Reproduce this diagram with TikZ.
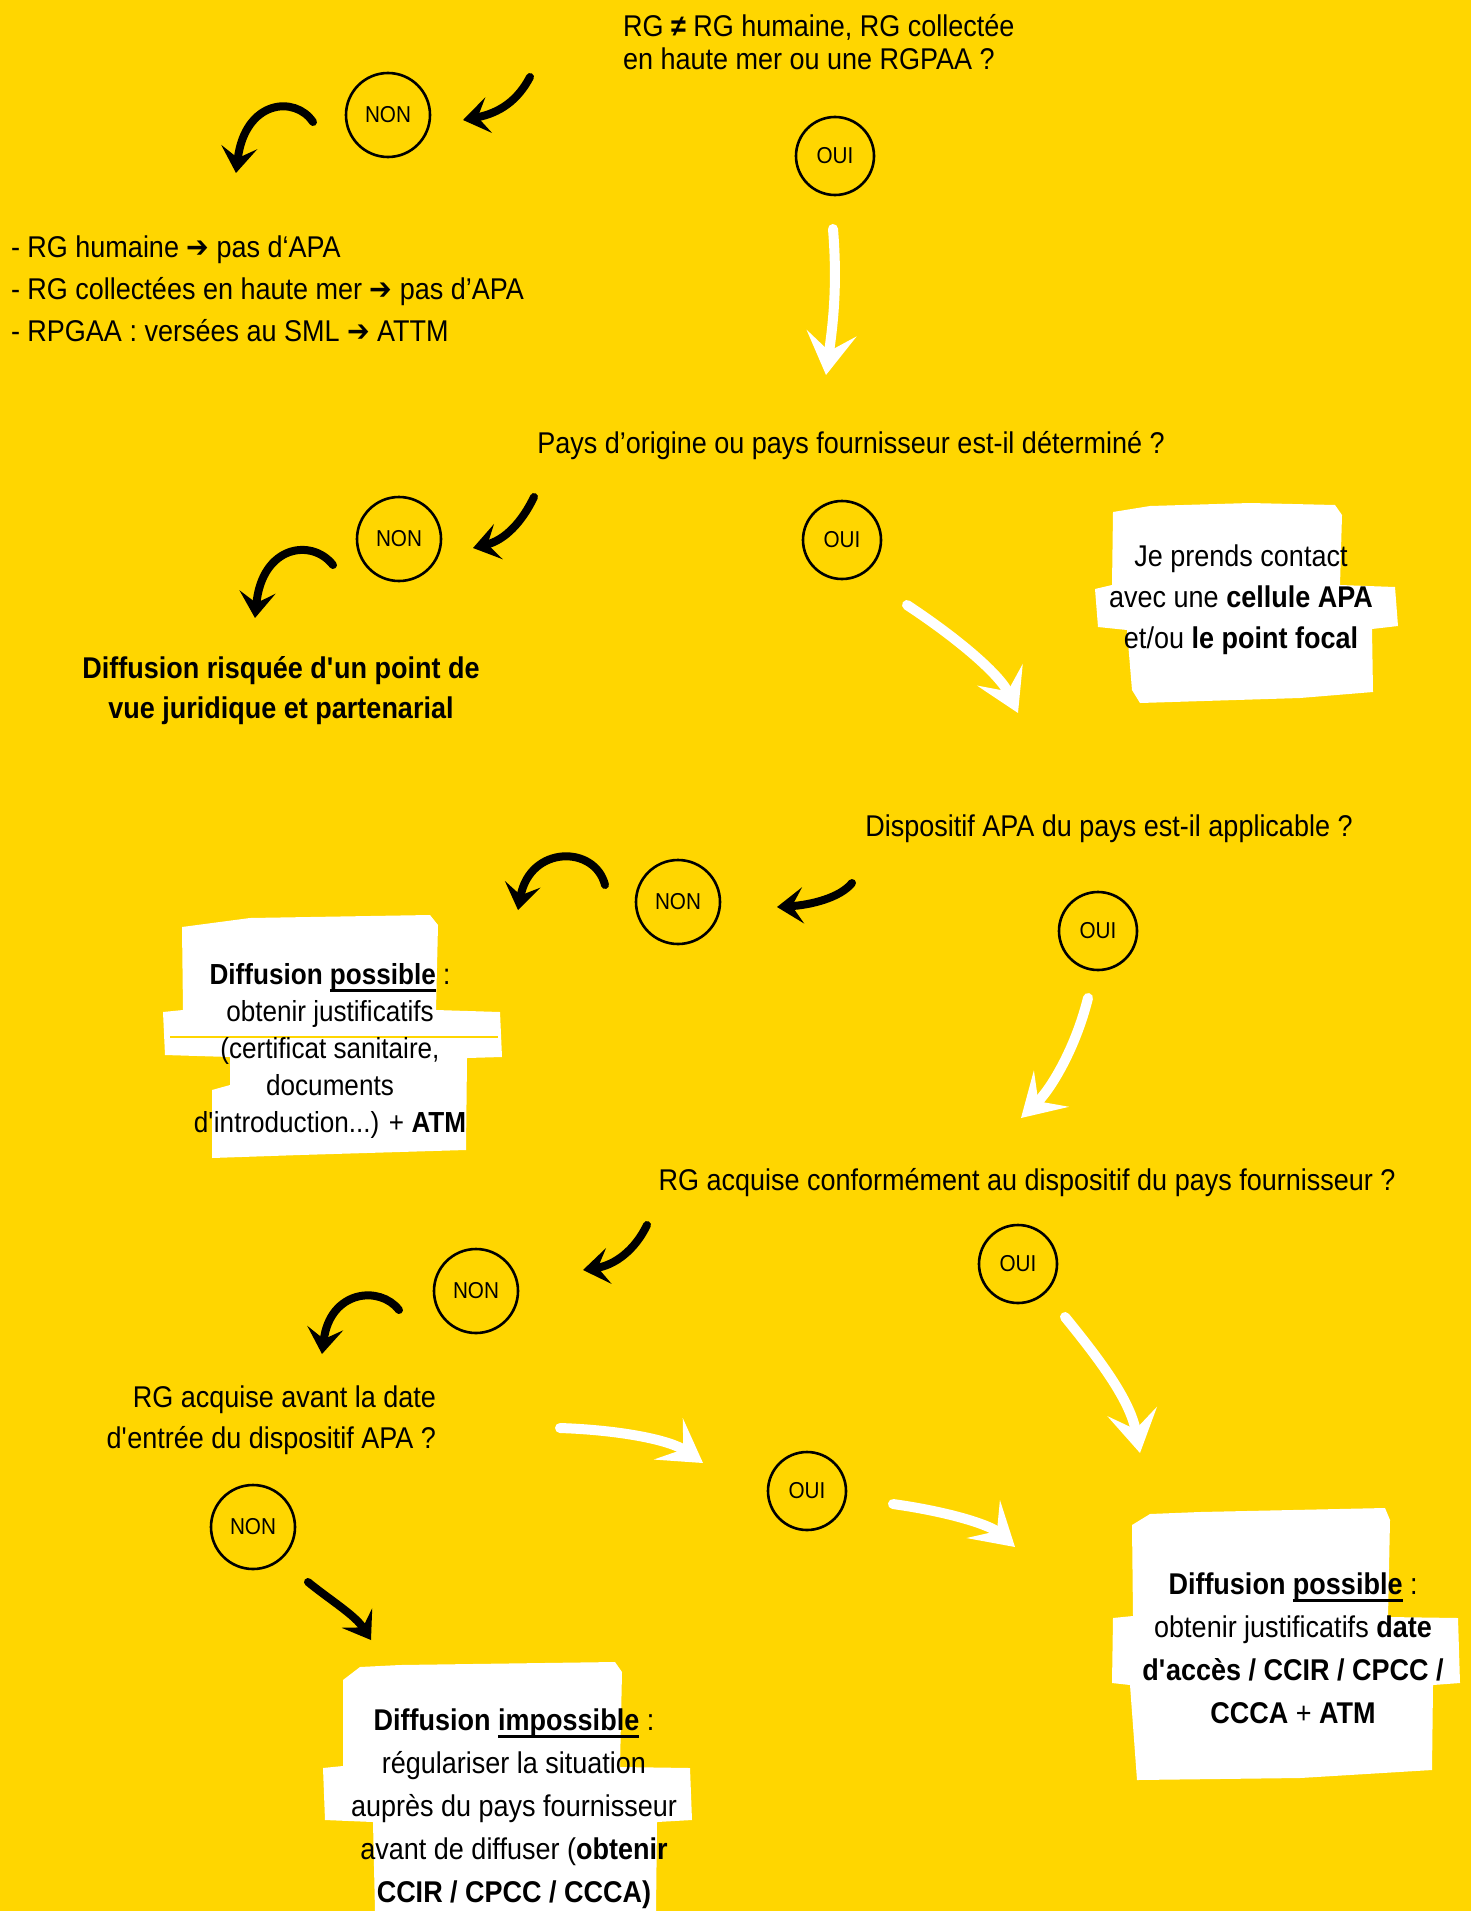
\documentclass[tikz,border=0pt]{standalone}
\usepackage{fontspec}
\setmainfont{Liberation Sans}[FakeStretch=0.9]
\newfontfamily\arrowfont{DejaVu Sans}[FakeStretch=0.9]
\usetikzlibrary{arrows.meta}
\definecolor{bgyellow}{RGB}{255,214,0}
\newcommand\thickul[1]{\leavevmode\setbox0\hbox{#1}\rlap{\rule[-8pt]{\wd0}{3pt}}\box0}
\newcommand\sq{\textquotesingle}
\newcommand\harr{{\arrowfont ➔}}
\begin{document}
\begin{tikzpicture}[x=1pt,y=-1pt,
  every node/.style={inner sep=0pt, outer sep=0pt},
  txt/.style={font=\fontsize{30}{41}\selectfont, text=black},
  bubble/.style={draw=black, line width=2.6pt, circle, minimum size=84pt, font=\fontsize{23}{23}\selectfont},
  ouibubble/.style={bubble, minimum size=78pt},
  blk/.style={draw=black, line width=8pt, line cap=round, -{Stealth[length=26pt,width=36pt,inset=11pt]}},
  wht/.style={draw=white, line width=10pt, line cap=round, -{Stealth[length=42pt,width=50pt,inset=18pt]}},
  brush/.style={fill=white, draw=none},
]
\fill[bgyellow] (0,0) rectangle (1471,1911);
\useasboundingbox (0,0) rectangle (1471,1911);

% brush boxes
\fill[brush] (1113,512) -- (1150,506) -- (1250,503) -- (1335,505) -- (1342,515) -- (1340,585) -- (1395,587) -- (1398,626) -- (1372,629) -- (1373,692) -- (1300,698) -- (1140,703) -- (1132,690) -- (1127,630) -- (1098,627) -- (1095,589) -- (1112,585) -- cycle;
\fill[brush] (182,927) -- (250,918) -- (430,915) -- (438,925) -- (436,1010) -- (500,1012) -- (502,1057) -- (467,1058) -- (466,1150) -- (300,1155) -- (212,1158) -- (212,1090) -- (230,1085) -- (230,1057) -- (165,1055) -- (163,1012) -- (183,1010) -- cycle;
\draw[bgyellow, line width=1.5pt] (170,1037) -- (498,1037);
\fill[brush] (343,1680) -- (360,1667) -- (400,1665) -- (615,1662) -- (622,1672) -- (620,1767) -- (690,1768) -- (692,1820) -- (657,1822) -- (656,1911) -- (375,1911) -- (373,1822) -- (325,1820) -- (323,1768) -- (343,1766) -- cycle;
\fill[brush] (1132,1525) -- (1150,1514) -- (1200,1512) -- (1385,1508) -- (1390,1520) -- (1388,1617) -- (1458,1618) -- (1460,1683) -- (1433,1685) -- (1432,1770) -- (1300,1778) -- (1137,1780) -- (1130,1685) -- (1112,1683) -- (1113,1618) -- (1133,1616) -- cycle;

% texts (base anchor = baseline of the last line)
\node[txt, align=left, anchor=base west, font=\fontsize{30}{33}\selectfont] (q1) at (623,70) {RG \textbf{≠} RG humaine, RG collectée\\en haute mer ou une RGPAA ?};
\node[txt, align=left, anchor=base west, font=\fontsize{30}{42}\selectfont] (r1) at (11,341) {- RG humaine \harr{} pas d‘APA\\- RG collectées en haute mer \harr{} pas d’APA\\- RPGAA : versées au SML \harr{} ATTM};
\node[txt, anchor=base] (q2) at (851,453) {Pays d’origine ou pays fournisseur est-il déterminé ?};
\node[txt, align=center, anchor=base, font=\bfseries\fontsize{30}{40}\selectfont] (r2) at (281,718) {Diffusion risquée d\sq un point de\\vue juridique et partenarial};
\node[txt, align=center, anchor=base] (c1) at (1241,648) {Je prends contact\\avec une \textbf{cellule APA}\\et/ou \textbf{le point focal}};
\node[txt, anchor=base] (q3) at (1109,836) {Dispositif APA du pays est-il applicable ?};
\node[txt, align=center, anchor=base, font=\fontsize{29}{37}\selectfont] (r3) at (330,1132) {\textbf{Diffusion \thickul{possible}} :\\obtenir justificatifs\\(certificat sanitaire,\\documents\\d\sq introduction...) + \textbf{ATM}};
\node[txt, anchor=base] (q4) at (1027,1190) {RG acquise conformément au dispositif du pays fournisseur ?};
\node[txt, align=right, anchor=base east] (q5) at (436,1448) {RG acquise avant la date\\d\sq entrée du dispositif APA ?};
\node[txt, align=center, anchor=base, font=\fontsize{30}{43}\selectfont] (r4) at (514,1902) {\textbf{Diffusion \thickul{impossible}} :\\régulariser la situation\\auprès du pays fournisseur\\avant de diffuser (\textbf{obtenir}\\\textbf{CCIR / CPCC / CCCA)}};
\node[txt, align=center, anchor=base, font=\fontsize{30}{43}\selectfont] (r5) at (1293,1723) {\textbf{Diffusion \thickul{possible}} :\\obtenir justificatifs \textbf{date}\\\textbf{d\sq accès / CCIR / CPCC /}\\\textbf{CCCA} + \textbf{ATM}};

% bubbles
\node[bubble] (n1) at (388,115) {NON};
\node[ouibubble] (o1) at (835,156) {OUI};
\node[bubble] (n2) at (399,539) {NON};
\node[ouibubble] (o2) at (842,540) {OUI};
\node[bubble] (n3) at (678,902) {NON};
\node[ouibubble] (o3) at (1098,931) {OUI};
\node[bubble] (n4) at (476,1291) {NON};
\node[ouibubble] (o4) at (1018,1264) {OUI};
\node[ouibubble] (o5) at (807,1491) {OUI};
\node[bubble] (n5) at (253,1527) {NON};

% arrow end points
\coordinate (a1s) at (530,77);   \coordinate (a1e) at (463,120);
\coordinate (b1s) at (313,122);  \coordinate (b1e) at (236,173);
\coordinate (a2s) at (534,497);  \coordinate (a2e) at (473,548);
\coordinate (b2s) at (333,565);  \coordinate (b2e) at (255,618);
\coordinate (a3s) at (852,883);  \coordinate (a3e) at (777,907);
\coordinate (b3s) at (605,885);  \coordinate (b3e) at (518,910);
\coordinate (a4s) at (647,1225); \coordinate (a4e) at (583,1270);
\coordinate (b4s) at (399,1310); \coordinate (b4e) at (322,1354);
\coordinate (a5s) at (308,1582); \coordinate (a5e) at (371,1640);
\coordinate (w1s) at (833,229);  \coordinate (w1e) at (826,375);
\coordinate (w2s) at (907,605);  \coordinate (w2e) at (1018,713);
\coordinate (w3s) at (1088,998); \coordinate (w3e) at (1021,1118);
\coordinate (w4s) at (1065,1317);\coordinate (w4e) at (1140,1453);
\coordinate (w5s) at (560,1428); \coordinate (w5e) at (703,1463);
\coordinate (w6s) at (893,1504); \coordinate (w6e) at (1015,1547);

% black arrows
\draw[blk] (a1s) .. controls (518,100) and (500,113) .. (a1e);
\draw[blk] (b1s) .. controls (295,95) and (245,100) .. (b1e);
\draw[blk] (a2s) .. controls (522,522) and (505,540) .. (a2e);
\draw[blk] (b2s) .. controls (312,538) and (262,545) .. (b2e);
\draw[blk] (a3s) .. controls (840,898) and (810,905) .. (a3e);
\draw[blk] (b3s) .. controls (595,845) and (530,845) .. (b3e);
\draw[blk] (a4s) .. controls (635,1250) and (615,1265) .. (a4e);
\draw[blk] (b4s) .. controls (380,1285) and (330,1290) .. (b4e);
\draw[blk] (a5s) .. controls (330,1600) and (355,1615) .. (a5e);

% white arrows
\draw[wht] (w1s) .. controls (838,290) and (832,330) .. (w1e);
\draw[wht] (w2s) .. controls (960,640) and (1000,675) .. (w2e);
\draw[wht] (w3s) .. controls (1075,1050) and (1050,1090) .. (w3e);
\draw[wht] (w4s) .. controls (1100,1360) and (1130,1400) .. (w4e);
\draw[wht] (w5s) .. controls (620,1430) and (670,1440) .. (w5e);
\draw[wht] (w6s) .. controls (950,1512) and (990,1525) .. (w6e);
\end{tikzpicture}
\end{document}
